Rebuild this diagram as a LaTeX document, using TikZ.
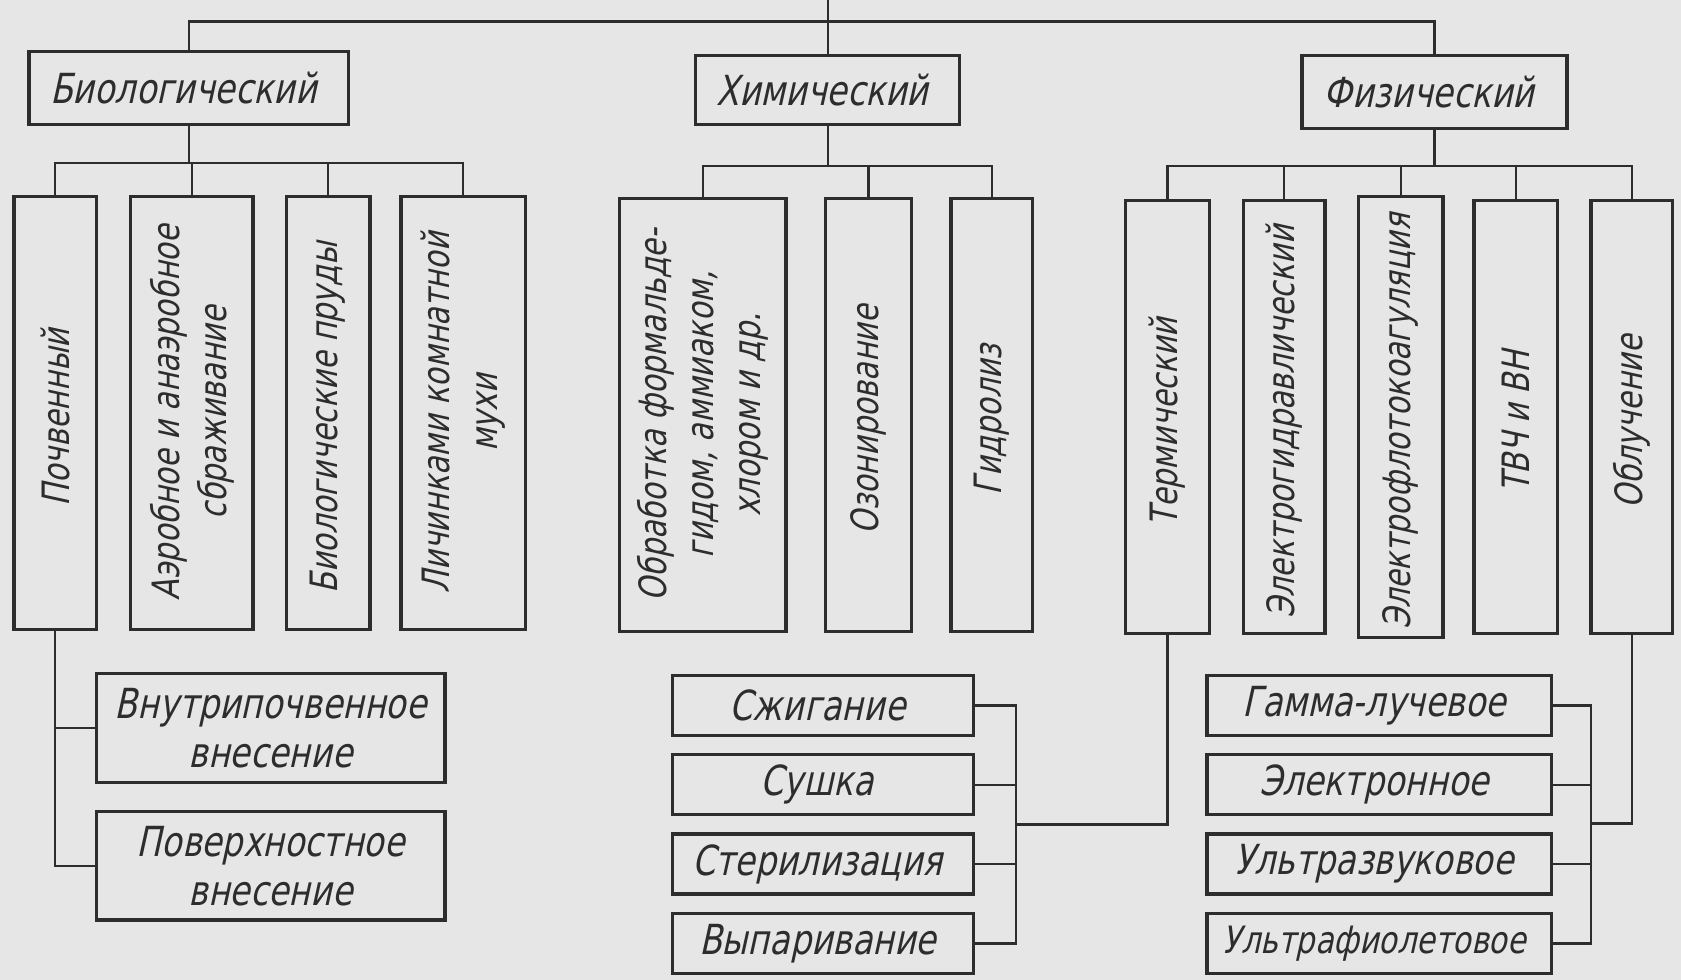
\documentclass[tikz,border=0pt]{standalone}
\usepackage{fontspec}
\newfontfamily\gost{DejaVu Sans}[FakeStretch=0.8,FakeSlant=0.22]
\definecolor{ink}{RGB}{45,45,45}
\definecolor{paper}{RGB}{230,230,230}
\tikzset{
    box/.style={draw=ink, text=ink, line width=0.9pt, inner sep=2pt, align=center,
        font=\gost\fontsize{11}{13}\selectfont},
    vbox/.style={box, rotate=90, minimum width=4.04cm, font=\gost\fontsize{10}{12.5}\selectfont},
    sbox/.style={box, minimum height=0.56cm},
    link/.style={draw=ink, line width=0.6pt}
}
\begin{document}
\begin{tikzpicture}
            \fill[paper] (0,0) rectangle (15.68,-9.14);
            \useasboundingbox (0,0) rectangle (15.68,-9.14);
            \node[box, minimum width=2.98cm, minimum height=0.68cm] (biol) at (1.76, -0.82) { Биологический };
            \node[box, minimum width=2.46cm, minimum height=0.64cm] (chem) at (7.72, -0.84) { Химический };
            \node[box, minimum width=2.47cm, minimum height=0.68cm] (phys) at (13.38, -0.86) { Физический };
            \node[vbox, minimum height=0.77cm] (pochv) at (0.515, -3.85) { Почвенный };
            \node[vbox, minimum height=1.14cm] (aerob) at (1.79, -3.85) { Аэробное и анаэробное\\сбраживание };
            \node[vbox, minimum height=0.78cm] (prudy) at (3.06, -3.85) { Биологические пруды };
            \node[vbox, minimum height=1.16cm] (lichin) at (4.32, -3.85) { Личинками комнатной\\мухи };
            \node[vbox, minimum height=1.55cm] (obrab) at (6.555, -3.87) { Обработка формальде-\\гидом, аммиаком,\\хлором и др. };
            \node[vbox, minimum height=0.80cm] (ozon) at (8.10, -3.87) { Озонирование };
            \node[vbox, minimum height=0.76cm] (gidrol) at (9.25, -3.87) { Гидролиз };
            \node[vbox, minimum height=0.78cm] (term) at (10.89, -3.89) { Термический };
            \node[vbox, minimum height=0.76cm] (elgidr) at (11.98, -3.89) { Электрогидравлический };
            \node[vbox, minimum height=0.79cm] (elflot) at (13.065, -3.89) { Электрофлотокоагуляция };
            \node[vbox, minimum height=0.78cm] (tvch) at (14.14, -3.89) { ТВЧ и ВН };
            \node[vbox, minimum height=0.76cm] (obluch) at (15.22, -3.89) { Облучение };
            \node[box, minimum width=3.25cm, minimum height=1.02cm] (vnutr) at (2.525, -6.79) { Внутрипочвенное\\внесение };
            \node[box, minimum width=3.25cm, minimum height=1.01cm] (poverkh) at (2.525, -8.075) { Поверхностное\\внесение };
            \node[sbox, minimum width=2.81cm] (szhig) at (7.675, -6.58) { Сжигание };
            \node[sbox, minimum width=2.81cm] (sushka) at (7.675, -7.32) { Сушка };
            \node[sbox, minimum width=2.81cm] (steril) at (7.675, -8.06) { Стерилизация };
            \node[sbox, minimum width=2.81cm] (vypar) at (7.675, -8.80) { Выпаривание };
            \node[sbox, minimum width=3.21cm] (gamma) at (12.865, -6.58) { Гамма-лучевое };
            \node[sbox, minimum width=3.21cm] (elektr) at (12.865, -7.32) { Электронное };
            \node[sbox, minimum width=3.21cm] (ultrazv) at (12.865, -8.06) { Ультразвуковое };
            \node[sbox, minimum width=3.21cm, font=\gost\fontsize{10}{12}\selectfont] (ultraf) at (12.865, -8.80) { Ультрафиолетовое };
            \coordinate (root) at (7.72, 0);
            \coordinate (tbus) at (7.72, -0.20);
            \coordinate (bbus) at (1.76, -1.52);
            \coordinate (cbus) at (7.72, -1.55);
            \coordinate (pbus) at (13.38, -1.55);
            \coordinate (cjoin) at (9.48, -7.69);
            \coordinate (pjoin) at (14.84, -7.68);
            \draw[link] (root) -- (chem);
            \draw[link] (biol) |- (tbus) -| (phys);
            \draw[link] (biol) -- (bbus);
            \draw[link] (chem) -- (cbus);
            \draw[link] (phys) -- (pbus);
            \foreach \c in {pochv,aerob,prudy,lichin}
                \draw[link] (bbus) -| (\c);
            \foreach \c in {obrab,ozon,gidrol}
                \draw[link] (cbus) -| (\c);
            \foreach \c in {term,elgidr,elflot,tvch,obluch}
                \draw[link] (pbus) -| (\c);
            \draw[link] (pochv) |- (vnutr);
            \draw[link] (pochv) |- (poverkh);
            \foreach \c in {szhig,sushka,steril,vypar}
                \draw[link] (\c) -| (cjoin);
            \draw[link] (cjoin) -| (term);
            \foreach \c in {gamma,elektr,ultrazv,ultraf}
                \draw[link] (\c) -| (pjoin);
            \draw[link] (pjoin) -| (obluch);
        \end{tikzpicture}
\end{document}
